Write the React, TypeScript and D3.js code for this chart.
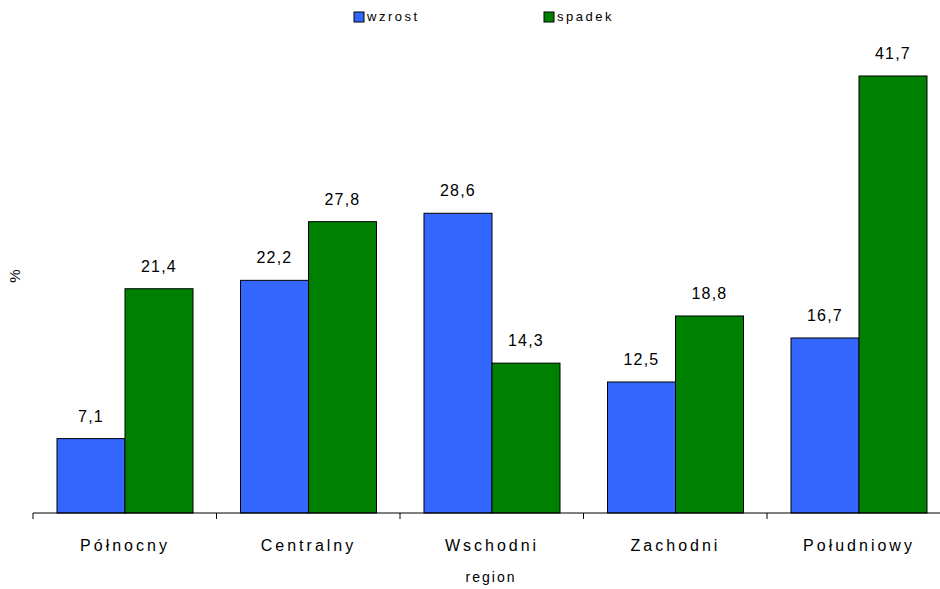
import React from "react";
import * as d3 from "d3";

const categories = ["Północny", "Centralny", "Wschodni", "Zachodni", "Południowy"];
const wzrost = [7.1, 22.2, 28.6, 12.5, 16.7];
const spadek = [21.4, 27.8, 14.3, 18.8, 41.7];
const seriesNames = ["wzrost", "spadek"];
const colors = ["#3366FF", "#008000"];

const fmt = (v: number) => v.toFixed(1).replace(".", ",");

export default function App() {
  const W = 940, H = 589;
  const x0 = 33, bandW = 183.5;
  const x = d3.scaleBand<string>().domain(categories).range([x0, x0 + bandW * categories.length]).paddingInner(0).paddingOuter(0);
  const y = d3.scaleLinear().domain([0, 45]).range([513, 513 - 10.48 * 45]);
  const font = "'Liberation Sans', Arial, sans-serif";
  const data = [wzrost, spadek];
  const bw = 68;
  return (
    <svg width={W} height={H} style={{ position: "absolute", left: 0, top: 0 }} fontFamily={font}>
      <rect width={W} height={H} fill="#fff" />
      {categories.map((c, i) =>
        data.map((s, j) => {
          const bx = (x(c) as number) + 24 + j * bw;
          return (
            <g key={c + j}>
              <rect x={bx} y={y(s[i])} width={bw} height={y(0) - y(s[i])} fill={colors[j]} stroke="#000" strokeWidth={1} />
              <text x={bx + bw / 2} y={y(s[i]) - 17} textAnchor="middle" fontSize={16} letterSpacing={1.2} fill="#000">
                {fmt(s[i])}
              </text>
            </g>
          );
        })
      )}
      <line x1={x0} x2={W} y1={y(0)} y2={y(0)} stroke="#000" strokeWidth={1} />
      {categories.map((c) => (
        <line key={"t" + c} x1={x(c)} x2={x(c)} y1={y(0)} y2={y(0) + 6} stroke="#000" strokeWidth={1} />
      ))}
      {categories.map((c) => (
        <text key={"l" + c} x={(x(c) as number) + 24 + bw} y={551} textAnchor="middle" fontSize={16} letterSpacing={3} fill="#000">
          {c}
        </text>
      ))}
      <text x={491} y={582} textAnchor="middle" fontSize={14} letterSpacing={2} fill="#000">region</text>
      <text transform="translate(20,276) rotate(-90)" textAnchor="middle" fontSize={15} fill="#000">%</text>
      {seriesNames.map((n, j) => {
        const lx = j === 0 ? 354 : 544;
        return (
          <g key={n}>
            <rect x={lx} y={12} width={10} height={10} fill={colors[j]} stroke="#000" strokeWidth={1} />
            <text x={lx + 13} y={21} fontSize={13} letterSpacing={2.5} fill="#000">{n}</text>
          </g>
        );
      })}
    </svg>
  );
}
